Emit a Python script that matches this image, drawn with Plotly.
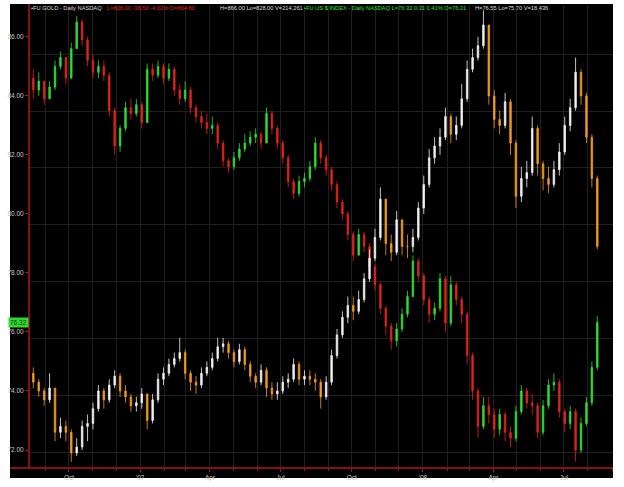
import pandas as pd
import plotly.graph_objects as go

# ---------------- data (weekly) ----------------
week_start = "2006-08-16"
n_weeks = 105

usd_open_first = 84.6
usd_close = [84.2, 84.5, 83.9, 84.3, 85.0, 85.3, 84.6, 85.6, 86.5, 85.9,
             85.2, 84.8, 85.0, 84.7, 83.5, 82.3, 82.9, 83.6, 83.4, 83.7,
             83.1, 84.9, 84.7, 85.0, 84.6, 84.9, 84.2, 83.9, 84.2, 83.6,
             83.3, 83.1, 82.9, 83.0, 82.4, 81.8, 81.6, 81.9, 82.2, 82.4,
             82.6, 82.7, 82.4, 83.4, 82.9, 82.4, 81.9, 81.1, 80.7, 81.1,
             81.2, 81.6, 82.4, 81.9, 81.5, 81.0, 80.4, 80.0, 79.3, 78.6,
             79.3, 78.9, 78.2, 77.6, 76.8, 76.2, 75.7, 76.1, 76.6, 77.2,
             78.4, 77.9, 77.1, 76.6, 76.8, 77.8, 76.3, 77.6, 77.1, 76.6,
             75.2, 74.0, 72.8, 73.5, 73.2, 72.7, 73.2, 72.6, 72.4, 73.3,
             74.0, 73.6, 73.5, 72.6, 73.5, 74.2, 74.3, 73.3, 72.9, 73.3,
             72.0, 72.9, 73.6, 74.8, 76.32]
usd_high = [84.9, 84.8, 84.5, 84.5, 85.2, 85.5, 85.3, 85.8, 86.7, 86.6,
            86.0, 85.4, 85.2, 85.2, 84.8, 83.6, 83.0, 83.8, 83.9, 83.9,
            83.8, 85.1, 85.1, 85.2, 85.1, 85.1, 85.0, 84.4, 84.5, 84.3,
            83.7, 83.5, 83.4, 83.3, 83.1, 82.5, 81.9, 82.1, 82.4, 82.7,
            82.8, 82.9, 82.8, 83.6, 83.5, 83.0, 82.5, 82.0, 81.2, 81.3,
            81.4, 81.8, 82.6, 82.5, 82.0, 81.6, 81.1, 80.5, 80.1, 79.4,
            79.5, 79.4, 79.0, 78.3, 77.7, 76.9, 76.3, 76.3, 76.8, 77.4,
            78.6, 78.5, 78.0, 77.2, 77.0, 78.0, 77.9, 77.9, 77.7, 77.2,
            76.7, 75.3, 74.1, 73.8, 73.8, 73.4, 73.4, 73.3, 72.8, 73.5,
            74.2, 74.1, 73.9, 73.6, 73.7, 74.4, 74.6, 74.4, 73.4, 73.5,
            73.4, 73.1, 73.8, 75.0, 76.55]
usd_low = [83.9, 84.0, 83.7, 83.9, 84.2, 84.9, 84.4, 84.6, 85.6, 85.7,
           85.0, 84.6, 84.6, 84.5, 83.3, 82.0, 82.1, 82.8, 83.2, 83.3,
           82.9, 83.1, 84.5, 84.6, 84.4, 84.5, 84.0, 83.7, 83.8, 83.4,
           83.1, 82.9, 82.7, 82.7, 82.2, 81.6, 81.4, 81.5, 81.8, 82.1,
           82.3, 82.4, 82.2, 82.4, 82.7, 82.2, 81.7, 80.9, 80.5, 80.6,
           80.9, 81.1, 81.5, 81.7, 81.3, 80.8, 80.2, 79.8, 79.1, 78.4,
           78.6, 78.7, 78.0, 77.4, 76.6, 75.9, 75.4, 75.5, 76.0, 76.5,
           77.2, 77.7, 76.9, 76.3, 76.4, 76.7, 76.0, 76.2, 76.9, 76.3,
           74.9, 73.7, 72.4, 72.7, 72.9, 72.4, 72.5, 72.3, 72.1, 72.3,
           73.2, 73.4, 73.2, 72.4, 72.5, 73.4, 74.0, 73.1, 72.6, 72.7,
           71.6, 71.9, 72.8, 73.5, 74.7]

# gold is drawn on the chart's overlay scale (same units as the left scale)
gold_open_first = 74.6
gold_close = [74.3, 74.0, 73.7, 74.1, 72.6, 72.8, 72.6, 71.9, 72.1, 72.8,
              72.9, 73.4, 74.0, 73.7, 74.2, 74.5, 74.0, 73.8, 73.5, 73.6,
              73.9, 73.0, 73.7, 74.4, 74.6, 74.9, 75.1, 75.3, 74.6, 74.3,
              74.2, 74.6, 74.8, 75.1, 75.5, 75.6, 75.3, 75.0, 75.4, 74.9,
              74.5, 74.3, 74.7, 74.1, 73.9, 74.0, 74.3, 74.4, 74.9, 74.4,
              74.5, 74.4, 74.3, 73.8, 74.3, 75.2, 75.9, 76.5, 76.9, 76.7,
              77.1, 77.8, 78.5, 79.2, 80.5, 79.0, 78.7, 79.8, 78.9, 78.9,
              79.2, 80.2, 81.0, 81.9, 82.3, 82.6, 83.3, 82.7, 83.0, 83.9,
              84.9, 85.3, 85.7, 86.4, 84.0, 83.2, 83.0, 83.8, 82.4, 80.6,
              81.2, 81.4, 82.9, 81.7, 81.2, 81.0, 81.5, 82.1, 83.0, 83.6,
              84.8, 84.0, 82.6, 81.2, 78.9]
gold_high = [74.8, 74.4, 74.1, 74.6, 74.1, 73.1, 73.0, 72.7, 72.4, 73.0,
             73.2, 73.6, 74.2, 74.1, 74.4, 74.7, 74.6, 74.2, 73.9, 73.8,
             74.1, 73.9, 73.9, 74.6, 74.8, 75.1, 75.3, 75.8, 75.4, 74.7,
             74.5, 74.8, 75.0, 75.3, 75.8, 75.8, 75.7, 75.4, 75.6, 75.5,
             75.0, 74.6, 74.9, 74.8, 74.3, 74.3, 74.5, 74.6, 75.1, 75.0,
             74.7, 74.7, 74.6, 74.4, 74.5, 75.4, 76.1, 76.7, 77.2, 77.2,
             77.4, 78.0, 78.8, 79.5, 80.9, 80.4, 79.3, 80.1, 79.8, 79.3,
             79.5, 80.4, 81.3, 82.2, 82.6, 82.9, 83.6, 83.4, 83.3, 84.4,
             85.2, 85.6, 86.0, 86.9, 86.3, 84.2, 83.5, 84.1, 83.9, 82.5,
             81.6, 81.8, 83.3, 83.0, 81.8, 81.6, 81.8, 82.4, 83.3, 83.9,
             85.3, 84.9, 84.1, 82.7, 81.3]
gold_low = [74.1, 73.8, 73.5, 73.6, 72.3, 72.4, 72.3, 71.6, 71.8, 72.0,
            72.3, 72.7, 73.3, 73.4, 73.6, 74.1, 73.8, 73.6, 73.3, 73.3,
            73.4, 72.7, 72.9, 73.6, 74.2, 74.5, 74.8, 75.0, 74.4, 74.0,
            73.9, 74.1, 74.5, 74.7, 75.0, 75.3, 75.1, 74.8, 74.9, 74.7,
            74.3, 74.1, 74.2, 73.8, 73.7, 73.7, 73.9, 74.1, 74.3, 74.2,
            74.2, 74.2, 74.0, 73.4, 73.7, 74.2, 75.1, 75.8, 76.3, 76.4,
            76.6, 77.0, 77.7, 78.4, 79.1, 78.6, 78.4, 78.6, 78.6, 78.5,
            78.7, 79.1, 80.0, 80.9, 81.7, 82.0, 82.5, 82.4, 82.5, 82.9,
            83.8, 84.8, 85.2, 85.6, 83.7, 82.9, 82.7, 82.9, 82.0, 80.2,
            80.4, 80.9, 81.3, 81.3, 80.8, 80.7, 80.9, 81.3, 82.0, 82.8,
            83.5, 83.7, 82.4, 80.9, 78.8]

x_tick_dates = ["2006-10-01", "2007-01-01", "2007-04-01", "2007-07-01",
                "2007-10-01", "2008-01-01", "2008-04-01", "2008-07-01"]
x_tick_text = ["Oct", "'07", "Apr", "Jul", "Oct", "'08", "Apr", "Jul"]
y_tick_vals = [72, 74, 76, 78, 80, 82, 84, 86]
last_usd_label = "76.32"

header_gold_name = "•FU GOLD - Daily NASDAQ"
header_gold_chg = "L=828.30 -36.50 -4.22% O=864.80"
header_gold_hl = "H=866.00 Lo=828.00 V=214,261"
header_usd_name = "•FU US $ INDEX - Daily NASDAQ L=76.32 0.31 0.41% O=76.21"
header_usd_hl = "H=76.55 Lo=75.70 V=18,436"

# ---------------- figure ----------------
dates = pd.date_range(week_start, periods=n_weeks, freq="7D")
usd_open = [usd_open_first] + usd_close[:-1]
gold_open = [gold_open_first] + gold_close[:-1]

RED = "#e2231a"
GREEN = "#2fe02f"
ORANGE = "#f39a1e"
WHITE = "#f2f2f2"
GRID = "#1f1f1f"
AXIS_RED = "#b3141a"
TXT = "#c8c8c8"
FONT = "Liberation Sans"

fig = go.Figure()
fig.add_trace(go.Candlestick(
    x=dates, open=gold_open, high=gold_high, low=gold_low, close=gold_close,
    increasing=dict(line=dict(color=WHITE, width=0.8), fillcolor=WHITE),
    decreasing=dict(line=dict(color=ORANGE, width=0.8), fillcolor=ORANGE),
    whiskerwidth=0, name="Gold", yaxis="y2", showlegend=False,
))
fig.add_trace(go.Candlestick(
    x=dates, open=usd_open, high=usd_high, low=usd_low, close=usd_close,
    increasing=dict(line=dict(color=GREEN, width=0.8), fillcolor=GREEN),
    decreasing=dict(line=dict(color=RED, width=0.8), fillcolor=RED),
    whiskerwidth=0, name="US $ Index", showlegend=False,
))

W, H = 624, 487
L, R, T, B = 29, 11, 5, 16
pw, ph = W - L - R, H - T - B
def px_x(p):
    return (p - L) / pw
def px_y(p):
    return (H - B - p) / ph

yr = [71.39, 87.08]
fig.update_layout(
    width=W, height=H, autosize=False,
    margin=dict(l=L, r=R, t=T, b=B, pad=0),
    paper_bgcolor="white", plot_bgcolor="black",
    font=dict(family=FONT, color=TXT, size=7),
    showlegend=False,
    boxgap=0.6, boxmode="overlay",
    xaxis=dict(
        type="date", range=["2006-08-10 10:00", "2008-09-02 07:00"],
        rangeslider=dict(visible=False),
        tickmode="array", tickvals=x_tick_dates, ticktext=x_tick_text,
        ticks="outside", ticklen=3, tickcolor=AXIS_RED,
        tickfont=dict(size=6.5, color=TXT, family=FONT),
        showgrid=True, gridcolor=GRID, gridwidth=1,
        minor=dict(tickmode="linear", tick0="2006-01-01", dtick="M1",
                   ticks="outside", ticklen=2, tickcolor=AXIS_RED,
                   showgrid=True, gridcolor=GRID),
        showline=False, zeroline=False, fixedrange=True,
    ),
    yaxis=dict(
        range=yr, tickmode="array", tickvals=y_tick_vals,
        tickformat=".2f", ticks="outside", ticklen=3, tickcolor=AXIS_RED,
        tickfont=dict(size=6.5, color=TXT, family=FONT),
        showgrid=False, zeroline=False, showline=False,
    ),
    yaxis2=dict(
        range=yr, overlaying="y", side="right", showticklabels=False,
        tickmode="linear", tick0=71.914, dtick=1.929,
        showgrid=True, gridcolor=GRID, zeroline=False, ticks="",
    ),
)

# black panel behind everything, red axis lines
fig.add_shape(type="rect", xref="paper", yref="paper",
              x0=px_x(10), x1=px_x(613), y0=px_y(481), y1=px_y(4),
              fillcolor="black", line=dict(width=0), layer="below")
fig.add_shape(type="line", xref="paper", yref="paper",
              x0=px_x(10), x1=px_x(613), y0=0, y1=0,
              line=dict(color=AXIS_RED, width=1.5), layer="above")
fig.add_shape(type="line", xref="paper", yref="paper",
              x0=0, x1=0, y0=0, y1=px_y(4),
              line=dict(color=AXIS_RED, width=1.5), layer="above")

# header texts
hy = px_y(8.5)
for txt, xp, col in [
    (header_gold_name, 30, "#dcdcdc"),
    (header_gold_chg, 106, RED),
    (header_gold_hl, 219, "#dcdcdc"),
    (header_usd_name, 303, GREEN),
    (header_usd_hl, 474, "#dcdcdc"),
]:
    fig.add_annotation(text=txt, xref="paper", yref="paper", x=px_x(xp), y=hy,
                       xanchor="left", yanchor="middle", showarrow=False,
                       borderpad=0,
                       font=dict(size=5.7, color=col, family=FONT))

# last value label
fig.add_annotation(text=last_usd_label, xref="paper", yref="y", x=0,
                   y=float(last_usd_label), xanchor="right", yanchor="middle",
                   showarrow=False, bgcolor="#2fd82f", borderpad=1,
                   font=dict(size=6.5, color="#0a3a0a", family=FONT))

fig.write_html("out.html",
               config={"displayModeBar": False},
               post_script="document.body.style.margin='0';document.body.style.overflow='hidden';")
